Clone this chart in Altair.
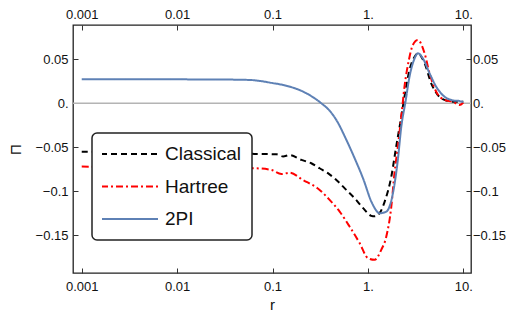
import altair as alt
import pandas as pd

# ---- data ----
series_names = ["Classical", "Hartree", "2PI"]

r_classical = [0.001, 0.01, 0.03, 0.065, 0.110, 0.129, 0.151, 0.201, 0.255, 0.312, 0.381,
               0.467, 0.594, 0.726, 0.887, 1.086, 1.175, 1.33, 1.50, 1.76, 1.98, 2.24,
               2.42, 2.73, 3.09, 3.34, 3.93, 4.61, 5.41, 6.36, 7.77, 10.0]
pi_classical = [-0.0550, -0.0558, -0.0566, -0.0576, -0.0580, -0.0605, -0.0590, -0.0644,
                -0.0682, -0.0739, -0.0795, -0.0872, -0.0985, -0.1080, -0.1190, -0.1280,
                -0.1286, -0.1247, -0.1118, -0.0834, -0.0493, -0.0152, 0.0075, 0.0378,
                0.0530, 0.0568, 0.0455, 0.0227, 0.0094, 0.0038, 0.0018, 0.0018]

r_hartree = [0.001, 0.01, 0.03, 0.0651, 0.0973, 0.124, 0.151, 0.209, 0.312, 0.397, 0.506,
             0.643, 0.819, 1.0, 1.175, 1.38, 1.56, 1.76, 1.90, 2.06, 2.24, 2.42, 2.69,
             2.96, 3.34, 3.93, 4.43, 5.2, 6.36, 7.77, 9.12, 10.0]
pi_hartree = [-0.0720, -0.0728, -0.0735, -0.0739, -0.0758, -0.0805, -0.0790, -0.0872,
              -0.0985, -0.1099, -0.1232, -0.1402, -0.1590, -0.1761, -0.1780, -0.1667,
              -0.1516, -0.1175, -0.0795, -0.0493, -0.0152, 0.0189, 0.0492, 0.0663,
              0.0719, 0.0568, 0.0341, 0.0132, 0.0038, 0.0018, -0.0019, 0.0007]

r_2pi = [0.001, 0.003, 0.01, 0.03, 0.0577, 0.1, 0.129, 0.226, 0.325, 0.397, 0.467, 0.594,
         0.726, 0.887, 1.106, 1.33, 1.56, 1.83, 2.06, 2.24, 2.48, 2.73, 3.09, 3.34, 3.77,
         4.43, 5.2, 6.36, 7.47, 8.3, 8.76, 9.5, 10.0]
pi_2pi = [0.0273, 0.0273, 0.0272, 0.0270, 0.0265, 0.0230, 0.0208, 0.0114, 0.0, -0.0085,
          -0.0190, -0.0415, -0.0625, -0.0850, -0.1136, -0.1250, -0.1232, -0.1023, -0.0644,
          -0.0266, 0.0018, 0.0302, 0.0511, 0.0568, 0.0511, 0.0341, 0.0189, 0.0075, 0.0038,
          0.0028, 0.0030, 0.0020, 0.0018]

x_ticks = [0.001, 0.01, 0.1, 1, 10]
y_ticks = [-0.15, -0.1, -0.05, 0, 0.05]
zero_level = [0.0]

rows = []
for name, rs, vs in [("Classical", r_classical, pi_classical),
                     ("Hartree", r_hartree, pi_hartree),
                     ("2PI", r_2pi, pi_2pi)]:
    for k, (rr, vv) in enumerate(zip(rs, vs)):
        rows.append({"series": name, "r": rr, "Pi": vv, "order": k})
df = pd.DataFrame(rows)
zero_df = pd.DataFrame({"Pi": zero_level})

FONT = "Liberation Sans"
x_domain = [0.00081, 12.05]
y_domain = [-0.193, 0.089]

xscale = alt.Scale(type="log", domain=x_domain, nice=False)
yscale = alt.Scale(domain=y_domain, nice=False, zero=False)

x_label_expr = "datum.value >= 1 ? format(datum.value, 'd') + '.' : format(datum.value, '~g')"
y_label_expr = "datum.value == 0 ? '0.' : format(datum.value, '.2~f')"

common_axis = dict(values=x_ticks, labelExpr=x_label_expr, grid=False, domain=False,
                   tickSize=5, offset=-5, tickColor="#333333", tickWidth=1,
                   labelFont=FONT, labelFontSize=13, labelColor="#111111")
common_yaxis = dict(values=y_ticks, labelExpr=y_label_expr, grid=False, domain=False,
                    tickSize=5, offset=-5, tickColor="#333333", tickWidth=1,
                    labelFont=FONT, labelFontSize=13, labelColor="#111111")

x_bottom = alt.Axis(orient="bottom", title="r", titleFont=FONT, titleFontSize=15,
                    titleFontWeight="normal", titleColor="#111111", titlePadding=4,
                    labelPadding=7, **common_axis)
x_top = alt.Axis(orient="top", title=None, labelPadding=4, **common_axis)
y_left = alt.Axis(orient="left", title="Π", titleFont=FONT, titleFontSize=15,
                  titleFontWeight="normal", titleColor="#111111", titlePadding=12,
                  labelPadding=5, **common_yaxis)
y_right = alt.Axis(orient="right", title=None, labelPadding=1.5, **common_yaxis)

zero_rule = alt.Chart(zero_df).mark_rule(color="#b4b4b4", strokeWidth=1.5).encode(
    y=alt.Y("Pi:Q", scale=yscale, axis=None)
)

lines = alt.Chart(df).mark_line(strokeWidth=2, interpolate="monotone").encode(
    x=alt.X("r:Q", scale=xscale, axis=x_bottom),
    y=alt.Y("Pi:Q", scale=yscale, axis=y_left),
    order="order:Q",
    color=alt.Color("series:N",
                    scale=alt.Scale(domain=series_names,
                                    range=["#000000", "#ff0000", "#5e81b5"]),
                    legend=alt.Legend(title=None, orient="none", legendX=19, legendY=108,
                                      symbolType="stroke", symbolSize=3249,
                                      symbolStrokeWidth=2, symbolOffset=-2,
                                      labelFontSize=19, labelFont=FONT,
                                      labelColor="#111111", labelOffset=6,
                                      clipHeight=22, rowPadding=10.5)),
    strokeDash=alt.StrokeDash("series:N",
                              scale=alt.Scale(domain=series_names,
                                              range=[[6, 4], [7, 3, 2, 3], [1, 0]]),
                              legend=alt.Legend(title=None, orient="none", legendX=19,
                                                legendY=108)),
)

frame_axes = alt.Chart(df).mark_line(opacity=0).encode(
    x=alt.X("r:Q", scale=xscale, axis=x_top),
    y=alt.Y("Pi:Q", scale=yscale, axis=y_right),
    detail="series:N",
)

chart = alt.layer(zero_rule, lines, frame_axes).resolve_scale(
    x="independent", y="independent"
).properties(
    width=398, height=248,
    autosize=alt.AutoSizeParams(type="none"),
    padding={"left": 65, "top": 17, "right": 35, "bottom": 40},
).configure_view(
    stroke="#222222", strokeWidth=1.3
).configure_legend(
    strokeColor="#222222", strokeWidth=1.5, cornerRadius=5, fillColor="white",
    padding=10
)

chart.save("out.html", embed_options={"renderer": "svg", "actions": False})
